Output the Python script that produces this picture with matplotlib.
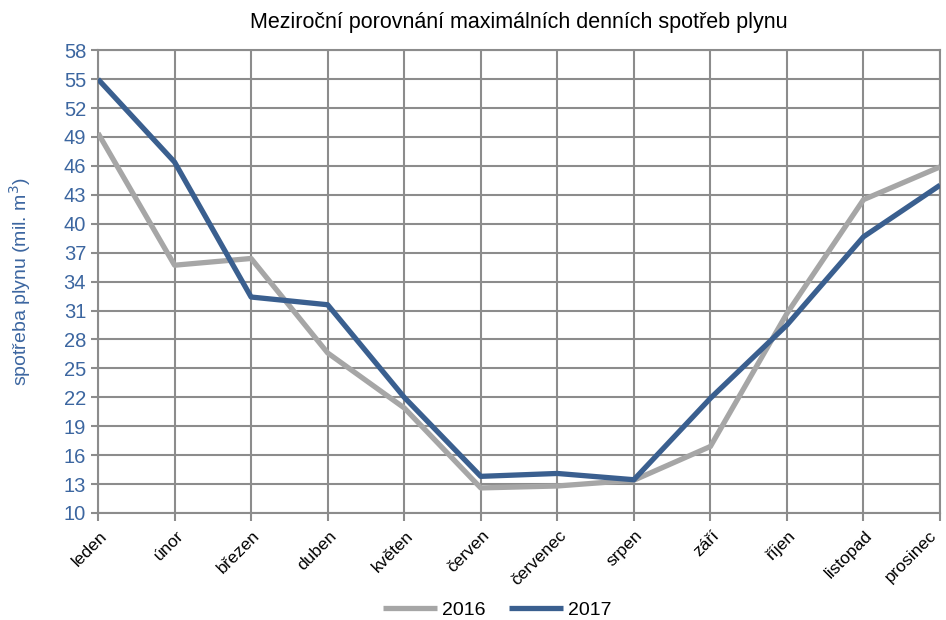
import matplotlib
matplotlib.use("Agg")
import matplotlib.pyplot as plt
from matplotlib import font_manager
from matplotlib.transforms import ScaledTranslation

months = ["leden", "únor", "březen", "duben", "květen", "červen", "červenec",
          "srpen", "září", "říjen", "listopad", "prosinec"]
s2016 = [49.4, 35.7, 36.4, 26.6, 20.9, 12.6, 12.8, 13.4, 16.9, 30.7, 42.5, 45.9]
s2017 = [55.0, 46.4, 32.4, 31.6, 22.0, 13.8, 14.1, 13.45, 21.9, 29.5, 38.65, 44.0]
yticks = list(range(10, 59, 3))

names = {f.name for f in font_manager.fontManager.ttflist}
fam = ["Liberation Sans Narrow"] if "Liberation Sans Narrow" in names else ["Liberation Sans"]
fam = fam + ["DejaVu Sans"]
plt.rcParams["font.family"] = fam

blue = "#3a5f8f"
gray = "#a6a6a6"
grid = "#8c8c8c"
lab_blue = "#3c66a0"

fig = plt.figure(figsize=(9.46, 6.2), dpi=100)
ax = fig.add_axes([0.1036, 0.1726, 0.8901, 0.7464])

x = list(range(len(months)))
ax.plot(x, s2016, color=gray, lw=3.8, label="2016", solid_capstyle="butt", zorder=3)
ax.plot(x, s2017, color=blue, lw=3.8, label="2017", solid_capstyle="butt", zorder=4)

ax.set_xlim(0, len(months) - 1)
ax.set_ylim(10, 58)
ax.set_yticks(yticks)
ax.set_xticks(x)
ax.set_xticklabels([])
for i, m in enumerate(months):
    dx = 1 if i < len(months) - 1 else -11
    tr = ax.get_xaxis_transform() + ScaledTranslation(dx / 100, -15 / 100, fig.dpi_scale_trans)
    ax.text(i, 0, m, transform=tr, rotation=45, ha="right", va="top",
            rotation_mode="anchor", fontsize=12.5, clip_on=False)
ax.tick_params(axis="y", labelcolor=lab_blue, labelsize=14.5, color=grid, length=5, width=1.5)
ax.tick_params(axis="x", color=grid, length=6, width=1.5, pad=4)
ax.grid(True, color=grid, lw=1.5, zorder=0)
for s in ax.spines.values():
    s.set_color(grid)
    s.set_linewidth(1.5)

ax.set_ylabel("spotřeba plynu (mil. m$^3$)", color=lab_blue, fontsize=14, labelpad=22)
ax.set_title("Meziroční porovnání maximálních denních spotřeb plynu", fontsize=15.5, pad=16)

ax.legend(loc="center", bbox_to_anchor=(0.474, -0.21), ncol=2, frameon=False,
          fontsize=14, handlelength=2.8, columnspacing=1.2, handletextpad=0.25,
          borderpad=0.1)

fig.savefig("out.png", dpi=100)
